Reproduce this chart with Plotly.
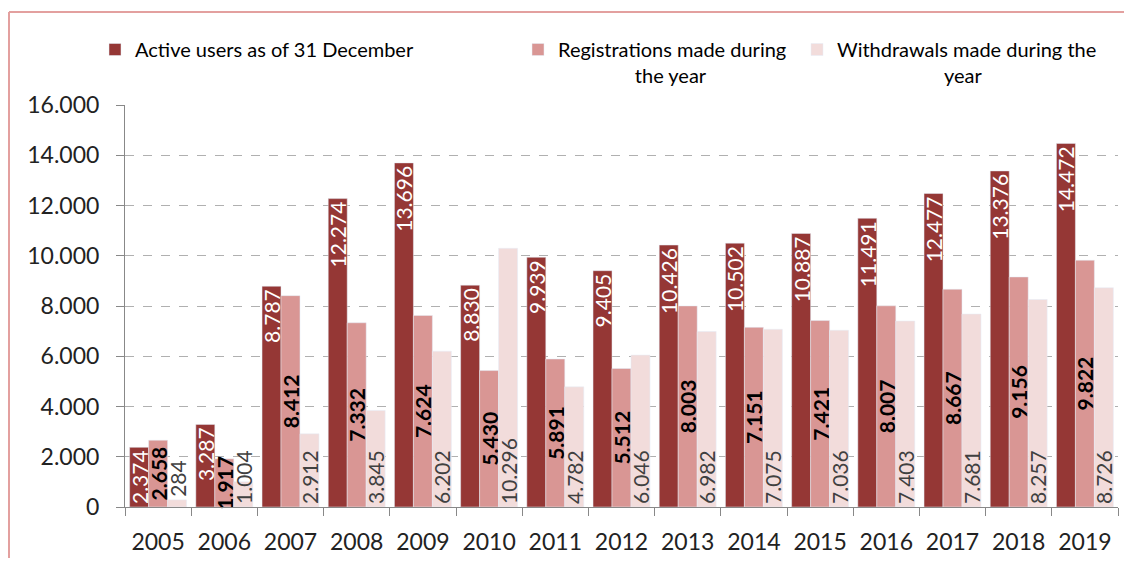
import plotly.graph_objects as go

years = ["2005", "2006", "2007", "2008", "2009", "2010", "2011", "2012",
         "2013", "2014", "2015", "2016", "2017", "2018", "2019"]
active = [2374, 3287, 8787, 12274, 13696, 8830, 9939, 9405, 10426, 10502,
          10887, 11491, 12477, 13376, 14472]
registrations = [2658, 1917, 8412, 7332, 7624, 5430, 5891, 5512, 8003, 7151,
                 7421, 8007, 8667, 9156, 9822]
withdrawals = [284, 1004, 2912, 3845, 6202, 10296, 4782, 6046, 6982, 7075,
               7036, 7403, 7681, 8257, 8726]

names = ["Active users as of 31 December",
         "Registrations made during<br>" + "&nbsp;" * 15 + "the year",
         "Withdrawals made during the<br>" + "&nbsp;" * 21 + "year"]
colors = ["#953735", "#d99694", "#f2dcdb"]

FONT = "Lato, 'Open Sans', sans-serif"
OFF = 8  # page body margin
W, H = 1132 - 2 * OFF, 566 - 2 * OFF
# target screen positions
L = 125 - OFF
T = 105 - OFF
R = W - (1118 - OFF)
B = H - (507 - OFF)
pw, ph = W - L - R, H - T - B

def px2x(px):
    return (px - L) / pw

def py2y(py):
    return 1 + (T - py) / ph

fig = go.Figure()
fig.add_trace(go.Bar(
    x=years, y=active, name=names[0], marker_color=colors[0], legend="legend",
    texttemplate="%{y:,d}", textposition="inside", insidetextanchor="end",
    textangle=-90, cliponaxis=False, constraintext="none",
    textfont=dict(family=FONT, size=21, color="white"),
    insidetextfont=dict(family=FONT, size=21, color="white"),
))
fig.add_trace(go.Bar(
    x=years, y=registrations, name=names[1], marker_color=colors[1], legend="legend2",
    texttemplate="%{y:,d}", textposition="inside", insidetextanchor="middle",
    textangle=-90, cliponaxis=False, constraintext="none",
    textfont=dict(family=FONT, size=21, color="black", weight="bold"),
    insidetextfont=dict(family=FONT, size=21, color="black", weight="bold"),
))
fig.add_trace(go.Bar(
    x=years, y=withdrawals, name=names[2], marker_color=colors[2], legend="legend3",
    texttemplate="%{y:,d}", textposition="auto", insidetextanchor="start",
    textangle=-90, cliponaxis=False, constraintext="none",
    textfont=dict(family=FONT, size=21, color="#404040"),
    insidetextfont=dict(family=FONT, size=21, color="#404040"),
    outsidetextfont=dict(family=FONT, size=21, color="#404040"),
))

legend_common = dict(orientation="v", yanchor="top", xanchor="left", valign="top",
                     font=dict(family=FONT, size=20, color="black"),
                     bgcolor="rgba(0,0,0,0)", itemclick=False, itemdoubleclick=False)

ly = py2y(22)
bx0, by_top, by_bot, bx_right = px2x(9 - OFF), py2y(12 - OFF), py2y(700), px2x(1300)
fig.update_layout(
    width=W, height=H,
    margin=dict(l=L, r=R, t=T, b=B, autoexpand=False),
    paper_bgcolor="white", plot_bgcolor="white",
    separators=",.",
    barmode="group", bargap=0.14, bargroupgap=0,
    uniformtext=dict(mode=False),
    showlegend=True,
    legend=dict(x=px2x(95 - OFF), y=ly, **legend_common),
    legend2=dict(x=px2x(518 - OFF), y=ly, **legend_common),
    legend3=dict(x=px2x(797 - OFF), y=ly, **legend_common),
    font=dict(family=FONT, color="#404040"),
    xaxis=dict(
        type="category", tickson="boundaries", ticks="outside", ticklen=8,
        tickcolor="#888888", showline=True, linecolor="#888888", linewidth=1,
        tickfont=dict(family=FONT, size=23, color="#222222"),
        showgrid=False, zeroline=False, ticklabelstandoff=14,
    ),
    yaxis=dict(
        range=[0, 16000], dtick=2000, tickformat=",d",
        ticks="outside", ticklen=8, tickcolor="#888888",
        showline=True, linecolor="#888888", linewidth=1,
        showgrid=True, gridcolor="#b0b0b0", griddash="dash", gridwidth=1,
        zeroline=False,
        tickfont=dict(family=FONT, size=23, color="#222222"),
        ticklabelstandoff=12,
    ),
    shapes=[
        dict(type="line", xref="paper", yref="paper",
             x0=bx0, x1=bx0, y0=by_bot, y1=by_top,
             line=dict(color="#e3a09f", width=2), layer="above"),
        dict(type="line", xref="paper", yref="paper",
             x0=bx0, x1=bx_right, y0=by_top, y1=by_top,
             line=dict(color="#e3a09f", width=2), layer="above"),
    ],
)

fig.write_html("out.html")
